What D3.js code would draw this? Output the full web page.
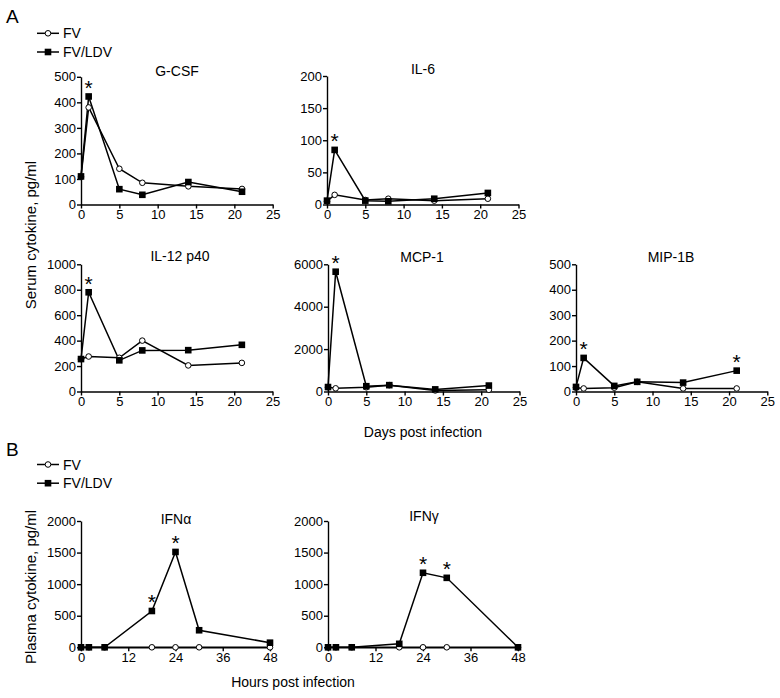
<!DOCTYPE html>
<html>
<head>
<meta charset="utf-8">
<script src="https://cdnjs.cloudflare.com/ajax/libs/d3/7.8.5/d3.min.js"></script>
<style>
  body { margin: 0; background: #fff; }
  svg { display: block; font-family: "Liberation Sans", Arial, sans-serif; }
</style>
</head>
<body>
<svg id="chart" width="780" height="698"></svg>
<script>
// ---- data ----
const days = [0, 1, 5, 8, 14, 21];
const hours = [0, 2, 6, 18, 24, 30, 48];
const seriesNames = ["FV", "FV/LDV"];

const gcsfFV = [108, 380, 140, 85, 71, 61];
const gcsfLDV = [110, 423, 60, 38, 88, 50];
const il6FV = [5, 15, 7, 9, 6, 9];
const il6LDV = [6, 85, 6, 5, 9, 18];
const il12FV = [255, 275, 265, 400, 205, 225];
const il12LDV = [255, 780, 245, 323, 325, 367];
const mcp1FV = [200, 150, 200, 300, 50, 80];
const mcp1LDV = [210, 5650, 250, 300, 100, 280];
const mip1bFV = [15, 12, 15, 38, 12, 12];
const mip1bLDV = [18, 132, 22, 38, 35, 82];
const ifnaFV = [0, 0, 0, 0, 0, 0, 0];
const ifnaLDV = [0, 0, 0, 575, 1510, 270, 73];
const ifngFV = [0, 0, 0, 0, 0, 0, 0];
const ifngLDV = [0, 0, 0, 55, 1180, 1100, 0];

const dayTicks = [0, 5, 10, 15, 20, 25];
const hourTicks = [0, 12, 24, 36, 48];
const gcsfTicks = [0, 100, 200, 300, 400, 500];
const il6Ticks = [0, 50, 100, 150, 200];
const il12Ticks = [0, 200, 400, 600, 800, 1000];
const mcp1Ticks = [0, 2000, 4000, 6000];
const mip1bTicks = [0, 100, 200, 300, 400, 500];
const ifnTicks = [0, 500, 1000, 1500, 2000];

// significance marks (x values)
const gcsfStars = [1], il6Stars = [1], il12Stars = [1], mcp1Stars = [1], mip1bStars = [1, 21];
const ifnaStars = [18, 24], ifngStars = [24, 30];

// ---- layout ----
const svg = d3.select("#chart");
const panels = [
  {title: "G-CSF", x: days, fv: gcsfFV, ldv: gcsfLDV, xt: dayTicks, yt: gcsfTicks, stars: gcsfStars,
   left: 81, right: 272.7, top: 76.8, bottom: 204.5, ty: 76, tx: 177},
  {title: "IL-6", x: days, fv: il6FV, ldv: il6LDV, xt: dayTicks, yt: il6Ticks, stars: il6Stars,
   left: 327, right: 518.5, top: 76, bottom: 204.5, ty: 74, tx: 423},
  {title: "IL-12 p40", x: days, fv: il12FV, ldv: il12LDV, xt: dayTicks, yt: il12Ticks, stars: il12Stars,
   left: 81, right: 272.5, top: 264.3, bottom: 391.5, ty: 261, tx: 180},
  {title: "MCP-1", x: days, fv: mcp1FV, ldv: mcp1LDV, xt: dayTicks, yt: mcp1Ticks, stars: mcp1Stars,
   left: 328, right: 519.5, top: 264.3, bottom: 391.5, ty: 262, tx: 422},
  {title: "MIP-1B", x: days, fv: mip1bFV, ldv: mip1bLDV, xt: dayTicks, yt: mip1bTicks, stars: mip1bStars,
   left: 576, right: 767.3, top: 264.3, bottom: 391.5, ty: 262, tx: 671},
  {title: "IFN\u03b1", x: hours, fv: ifnaFV, ldv: ifnaLDV, xt: hourTicks, yt: ifnTicks, stars: ifnaStars,
   left: 81, right: 270, top: 521, bottom: 647.3, ty: 524, tx: 176},
  {title: "IFN\u03b3", x: hours, fv: ifngFV, ldv: ifngLDV, xt: hourTicks, yt: ifnTicks, stars: ifngStars,
   left: 328, right: 518, top: 521, bottom: 647.3, ty: 521, tx: 424}
];

panels.forEach(p => {
  const xs = d3.scaleLinear().domain([p.xt[0], p.xt[p.xt.length - 1]]).range([p.left, p.right]);
  const ys = d3.scaleLinear().domain([p.yt[0], p.yt[p.yt.length - 1]]).range([p.bottom, p.top]);
  const g = svg.append("g");

  const xAxis = g.append("g").attr("transform", `translate(0,${p.bottom})`)
    .call(d3.axisBottom(xs).tickValues(p.xt).tickFormat(d3.format("d")).tickSize(4).tickSizeOuter(0).tickPadding(1.5));
  const yAxis = g.append("g").attr("transform", `translate(${p.left},0)`)
    .call(d3.axisLeft(ys).tickValues(p.yt).tickFormat(d3.format("d")).tickSize(4).tickSizeOuter(0).tickPadding(1));
  [xAxis, yAxis].forEach(a => {
    a.selectAll("path, line").attr("stroke", "#000").attr("stroke-width", 1.4);
    a.selectAll("text").attr("fill", "#000").attr("font-size", 13)
      .attr("font-family", "'Liberation Sans', Arial, sans-serif");
  });

  g.append("text").attr("x", p.tx).attr("y", p.ty)
    .attr("text-anchor", "middle").attr("font-size", 14).text(p.title);

  const line = d3.line().x((d, i) => xs(p.x[i])).y(d => ys(d));
  g.append("path").datum(p.fv).attr("d", line).attr("fill", "none")
    .attr("stroke", "#000").attr("stroke-width", 1.5);
  g.append("path").datum(p.ldv).attr("d", line).attr("fill", "none")
    .attr("stroke", "#000").attr("stroke-width", 1.5);
  g.selectAll("circle.fv").data(p.fv).enter().append("circle")
    .attr("cx", (d, i) => xs(p.x[i])).attr("cy", d => ys(d)).attr("r", 2.8)
    .attr("fill", "#fff").attr("stroke", "#000").attr("stroke-width", 1);
  g.selectAll("rect.ldv").data(p.ldv).enter().append("rect")
    .attr("x", (d, i) => xs(p.x[i]) - 3.3).attr("y", d => ys(d) - 3.3)
    .attr("width", 6.6).attr("height", 6.6).attr("fill", "#000");

  p.stars.forEach(sx => {
    const idx = p.x.indexOf(sx);
    g.append("text").attr("x", xs(sx)).attr("y", ys(p.ldv[idx]) - 1.5)
      .attr("text-anchor", "middle").attr("font-size", 21).text("*");
  });
});

// panel letters
svg.append("text").attr("x", 6).attr("y", 23).attr("font-size", 19).text("A");
svg.append("text").attr("x", 6).attr("y", 456).attr("font-size", 19).text("B");

// legends
function legend(y0) {
  seriesNames.forEach((name, i) => {
    const y = y0 + i * 18.7;
    const lg = svg.append("g");
    lg.append("line").attr("x1", 37).attr("x2", 59).attr("y1", y).attr("y2", y)
      .attr("stroke", "#000").attr("stroke-width", 1.5);
    if (i === 0) {
      lg.append("circle").attr("cx", 48).attr("cy", y).attr("r", 2.8)
        .attr("fill", "#fff").attr("stroke", "#000").attr("stroke-width", 1);
    } else {
      lg.append("rect").attr("x", 48 - 3.3).attr("y", y - 3.3).attr("width", 6.6).attr("height", 6.6).attr("fill", "#000");
    }
    lg.append("text").attr("x", 63).attr("y", y + 5).attr("font-size", 14).text(name);
  });
}
legend(33.3);
legend(464.5);

// axis titles
svg.append("text").attr("transform", "translate(35.5,235) rotate(-90)")
  .attr("text-anchor", "middle").attr("font-size", 15).text("Serum cytokine, pg/ml");
svg.append("text").attr("transform", "translate(35.5,587) rotate(-90)")
  .attr("text-anchor", "middle").attr("font-size", 15).text("Plasma cytokine, pg/ml");
svg.append("text").attr("x", 423).attr("y", 437).attr("text-anchor", "middle")
  .attr("font-size", 14).text("Days post infection");
svg.append("text").attr("x", 293).attr("y", 687).attr("text-anchor", "middle")
  .attr("font-size", 14).text("Hours post infection");
</script>
</body>
</html>
